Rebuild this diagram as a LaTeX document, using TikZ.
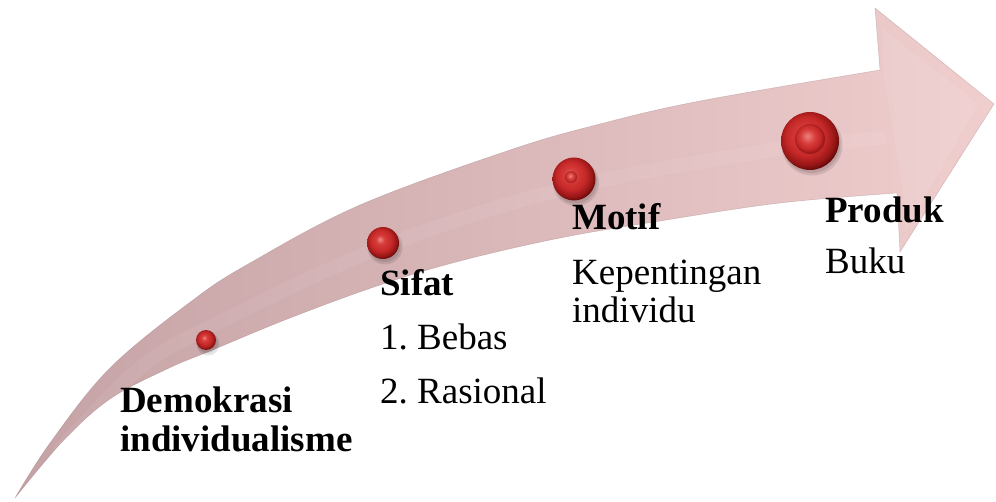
\documentclass[tikz,border=0pt]{standalone}
\usepackage{fontspec}
\setmainfont{Liberation Serif}
\frenchspacing
\definecolor{arrowL}{RGB}{196,162,165}
\definecolor{arrowR}{RGB}{240,206,206}
\definecolor{arrowEdge}{RGB}{150,110,112}
\definecolor{bhl}{RGB}{240,135,130}
\definecolor{bred}{RGB}{214,60,58}
\definecolor{bmid}{RGB}{196,40,40}
\definecolor{bdark}{RGB}{150,22,22}
\definecolor{bedge}{RGB}{110,12,12}
\pgfdeclareradialshading{redball}{\pgfpoint{-5bp}{6bp}}{%
  color(0bp)=(bhl); color(7bp)=(bred); color(17bp)=(bmid);
  color(24bp)=(bdark); color(27bp)=(bedge); color(50bp)=(bedge)}
\pgfdeclareradialshading{reddimple}{\pgfpoint{-4bp}{5bp}}{%
  color(0bp)=(bhl); color(12bp)=(bred); color(20bp)=(bmid);
  color(25bp)=(bdark); color(50bp)=(bdark)}
\tikzset{
  ball/.style={circle, inner sep=0pt, minimum size=#1, shading=redball},
  dimple/.style={circle, inner sep=0pt, minimum size=#1, shading=reddimple, opacity=0.85},
  lbl/.style={anchor=base west, inner sep=0pt, font=\fontsize{37}{40}\selectfont},
  head/.style={lbl, font=\fontsize{37}{40}\selectfont\bfseries},
}
\begin{document}
\begin{tikzpicture}[x=1pt, y=-1pt]
\useasboundingbox (0,0) rectangle (996,502);

% curved arrow body
\path[left color=arrowL, right color=arrowR, draw=arrowEdge, draw opacity=0.35, line width=0.5pt]
  plot[smooth, tension=0.6] coordinates {(15,498) (50,443) (110,368) (193,300) (250,263)
      (360,205) (510,150) (600,124) (700,101) (880,70)}
  -- (875,8) -- (994,104) -- (900,252) -- (897,193)
  -- plot[smooth, tension=0.6] coordinates {(897,193) (780,203) (660,221) (560,238)
      (460,261) (380,285) (290,318) (210,351) (167,369) (110,399) (63,441) (15,498)}
  -- cycle;

% soft sheen along the middle of the shaft
\draw[white, opacity=0.06, line width=14pt, line cap=round]
  plot[smooth, tension=0.6] coordinates {(60,450) (140,368) (220,322) (380,248) (560,190) (760,152) (880,138)};

% bevel of the arrow head
\fill[white, opacity=0.08] (884,78) -- (882,28) -- (978,104) -- (905,232) -- (903,186) -- cycle;

% drop shadows of the markers
\foreach \cx/\cy/\r in {206/340/10, 383/243/16, 574/179/21.5, 810/141/29} {
  \fill[black, opacity=0.10] (\cx+2,\cy+4) circle[radius=\r+1.5];
  \fill[black, opacity=0.10] (\cx+1.5,\cy+3) circle[radius=\r];
}

% markers on the arrow
\node[ball=20pt] (b1) at (206,340) {};
\node[ball=32pt] (b2) at (383,243) {};
\node[ball=43pt] (b3) at (574,179) {};
\node[dimple=12pt] (b3i) at (571,177) {};
\node[ball=58pt] (b4) at (810,141) {};
\node[dimple=30pt] (b4i) at (810,139) {};

% stage labels
\node[head] (t1a) at (120,413) {Demokrasi};
\node[head] (t1b) at (120,451) {individualisme};

\node[head] (t2a) at (380,296) {Sifat};
\node[lbl]  (t2b) at (380,350) {1. Bebas};
\node[lbl]  (t2c) at (380,404) {2. Rasional};

\node[head] (t3a) at (572,230) {Motif};
\node[lbl]  (t3b) at (572,285) {Kepentingan};
\node[lbl]  (t3c) at (572,323) {individu};

\node[head] (t4a) at (825,223) {Produk};
\node[lbl]  (t4b) at (825,274) {Buku};
\end{tikzpicture}
\end{document}
